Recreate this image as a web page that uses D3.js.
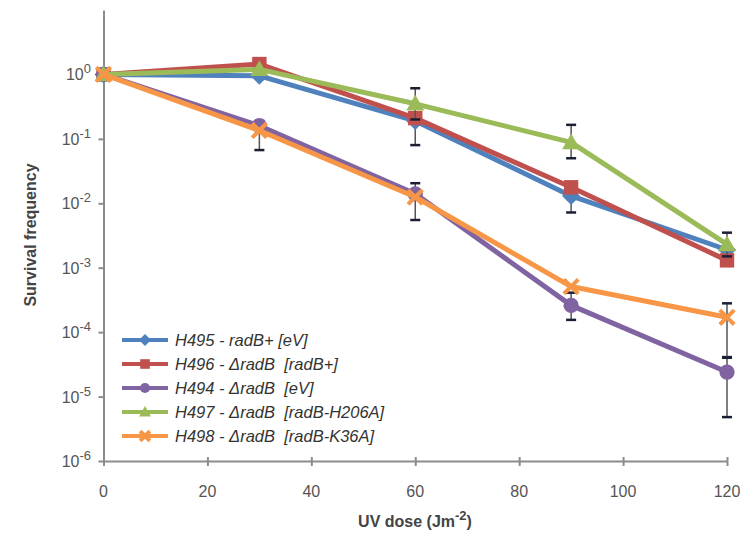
<!DOCTYPE html>
<html><head><meta charset="utf-8">
<script src="https://cdn.jsdelivr.net/npm/d3@7"></script>
<style>body{margin:0;background:#fff}svg{display:block}</style>
</head><body>
<svg id="c" width="748" height="536"></svg>
<script>
const doses = [0, 30, 60, 90, 120];
const xTicks = [0, 20, 40, 60, 80, 100, 120];
const yTickExps = [0, -1, -2, -3, -4, -5, -6];
const seriesNames = ["H495 - radB+ [eV]", "H496 - \u0394radB  [radB+]", "H494 - \u0394radB  [eV]", "H497 - \u0394radB  [radB-H206A]", "H498 - \u0394radB  [radB-K36A]"];
const seriesColors = ["#4F81BD", "#C0504D", "#8064A2", "#9BBB59", "#F79646"];
const seriesMarkers = ["diamond", "square", "circle", "triangle", "x"];
const valsH495 = [1, 0.95, 0.19, 0.013, 0.0019];
const valsH496 = [1, 1.45, 0.21, 0.0177, 0.0013];
const valsH494 = [1, 0.16, 0.014, 0.00026, 0.000024];
const valsH497 = [1, 1.2, 0.35, 0.088, 0.0023];
const valsH498 = [1, 0.135, 0.0125, 0.00051, 0.00017];
const errH495 = [null, null, [0.08, 0.3], [0.0072, 0.02], null];
const errH496 = [null, null, null, null, null];
const errH494 = [null, [0.067, 0.19], [0.0055, 0.0205], [0.000155, 0.00041], [0.0000048, 0.000041]];
const errH497 = [null, null, [0.2, 0.61], [0.05, 0.165], [0.0015, 0.0035]];
const errH498 = [null, null, null, null, [0.00004, 0.00028]];
const seriesVals = [valsH495, valsH496, valsH494, valsH497, valsH498];
const seriesErr = [errH495, errH496, errH494, errH497, errH498];

const svg = d3.select("#c");
const x = d3.scaleLinear().domain([0, 120]).range([103.5, 727]);
const y = d3.scaleLog().domain([1e-6, 10]).range([461, 10]);
const axisColor = "#8c8c8c";
const font = "Liberation Sans, Arial, sans-serif";

// axes
const xAxis = svg.append("g").attr("transform", "translate(0,461)")
  .call(d3.axisBottom(x).tickValues(xTicks).tickSize(5).tickSizeOuter(0).tickFormat(""));
xAxis.select(".domain").attr("stroke", axisColor).attr("stroke-width", 2);
xAxis.selectAll(".tick line").attr("stroke", axisColor).attr("stroke-width", 2).attr("y1", -4).attr("y2", 5);
const yAxis = svg.append("g").attr("transform", "translate(103.5,0)")
  .call(d3.axisLeft(y).tickValues(yTickExps.map(e => Math.pow(10, e))).tickSize(5).tickSizeOuter(0).tickFormat(""));
yAxis.select(".domain").attr("stroke", axisColor).attr("stroke-width", 2);
yAxis.selectAll(".tick line").attr("stroke", axisColor).attr("stroke-width", 2);

// tick labels
svg.append("g").selectAll("text").data(xTicks).join("text")
  .attr("x", d => x(d)).attr("y", 497).attr("text-anchor", "middle")
  .attr("font-family", font).attr("font-size", 16).attr("fill", "#555").text(d => d);
const yl = svg.append("g").selectAll("text").data(yTickExps).join("text")
  .attr("x", 91).attr("y", d => y(Math.pow(10, d)) + 6).attr("text-anchor", "end")
  .attr("font-family", font).attr("font-size", 16).attr("fill", "#555");
yl.append("tspan").text("10");
yl.append("tspan").attr("dy", -7).attr("font-size", 13).text(d => d === 0 ? "0" : "-" + Math.abs(d));

// axis titles
svg.append("text").attr("transform", "translate(36,235) rotate(-90)").attr("text-anchor", "middle")
  .attr("font-family", font).attr("font-size", 16).attr("font-weight", "bold").attr("fill", "#444")
  .text("Survival frequency");
const xt = svg.append("text").attr("x", 415).attr("y", 527).attr("text-anchor", "middle")
  .attr("font-family", font).attr("font-size", 16).attr("font-weight", "bold").attr("fill", "#444");
xt.append("tspan").text("UV dose (Jm");
xt.append("tspan").attr("dy", -7).attr("font-size", 13).text("-2");
xt.append("tspan").attr("dy", 7).text(")");

function drawMarker(g, type, cx, cy, color, s) {
  if (type === "diamond") {
    g.append("path").attr("d", `M${cx},${cy - s}L${cx + s},${cy}L${cx},${cy + s}L${cx - s},${cy}Z`).attr("fill", color);
  } else if (type === "square") {
    g.append("rect").attr("x", cx - s * 0.8).attr("y", cy - s * 0.8).attr("width", s * 1.6).attr("height", s * 1.6).attr("fill", color);
  } else if (type === "circle") {
    g.append("circle").attr("cx", cx).attr("cy", cy).attr("r", s * 0.85).attr("fill", color);
  } else if (type === "triangle") {
    g.append("path").attr("d", `M${cx},${cy - s}L${cx + s},${cy + s * 0.75}L${cx - s},${cy + s * 0.75}Z`).attr("fill", color);
  } else {
    const k = s * 0.8;
    g.append("path").attr("d", `M${cx - k},${cy - k}L${cx + k},${cy + k}M${cx - k},${cy + k}L${cx + k},${cy - k}`)
      .attr("stroke", color).attr("stroke-width", 4);
  }
}

const line = d3.line().x(d => x(d[0])).y(d => y(d[1]));
seriesVals.forEach((vals, i) => {
  const g = svg.append("g");
  const pts = doses.map((d, j) => [d, vals[j]]);
  g.append("path").datum(pts).attr("d", line).attr("fill", "none")
    .attr("stroke", seriesColors[i]).attr("stroke-width", 5).attr("stroke-linejoin", "round");
  seriesErr[i].forEach((e, j) => {
    if (!e) return;
    const cx = x(doses[j]);
    g.append("line").attr("x1", cx).attr("x2", cx).attr("y1", y(e[0])).attr("y2", y(e[1]))
      .attr("stroke", "#555").attr("stroke-width", 1.5);
    [e[0], e[1]].forEach(v => g.append("line").attr("x1", cx - 5).attr("x2", cx + 5)
      .attr("y1", y(v)).attr("y2", y(v)).attr("stroke", "#1a1f33").attr("stroke-width", 2.5));
  });
  pts.forEach(p => drawMarker(g, seriesMarkers[i], x(p[0]), y(p[1]), seriesColors[i], 9));
});

// legend
const lg = svg.append("g");
seriesNames.forEach((n, i) => {
  const ly = 340 + i * 24;
  lg.append("line").attr("x1", 122).attr("x2", 168).attr("y1", ly).attr("y2", ly)
    .attr("stroke", seriesColors[i]).attr("stroke-width", 4);
  drawMarker(lg, seriesMarkers[i], 145, ly, seriesColors[i], 6);
  lg.append("text").attr("x", 175).attr("y", ly + 6).attr("font-family", font).attr("font-size", 16.5)
    .attr("font-style", "italic").attr("fill", "#333").attr("xml:space", "preserve")
    .style("white-space", "pre").text(n);
});
</script>
</body></html>
